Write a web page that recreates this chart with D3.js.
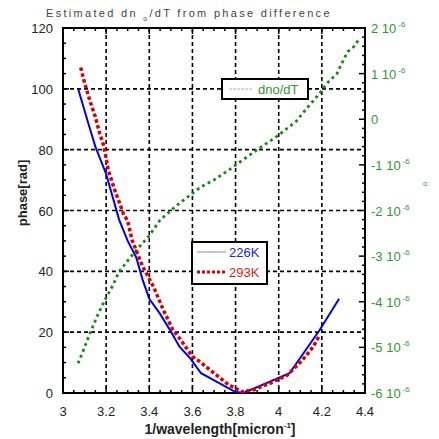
<!DOCTYPE html>
<html>
<head>
<meta charset="utf-8">
<script src="https://cdn.jsdelivr.net/npm/d3@7"></script>
<style>
  body { margin: 0; background: #fff; }
  text { font-family: "Liberation Sans", Arial, sans-serif; }
</style>
</head>
<body>
<script>
// data
var x226 = [3.07, 3.12, 3.15, 3.20, 3.26, 3.30, 3.34, 3.37, 3.40, 3.45, 3.50, 3.54, 3.59, 3.64, 3.80, 3.84, 4.05, 4.19, 4.28];
var y226 = [100, 88, 81, 72, 57, 50, 44.5, 37, 31, 26, 20.2, 15.2, 11.4, 6.5, 0.3, 0.1, 6.5, 20.7, 31];

var x293 = [3.082, 3.10, 3.125, 3.15, 3.17, 3.19, 3.21, 3.24, 3.28, 3.30, 3.32, 3.37, 3.42, 3.465, 3.51, 3.54, 3.57, 3.60, 3.64, 3.70, 3.77, 3.83, 3.88, 3.96, 4.04, 4.11, 4.16, 4.19];
var y293 = [107, 102, 96, 90.8, 85.4, 81, 73.3, 66.7, 59, 56.5, 50.3, 41.5, 34.9, 27.3, 20.7, 18, 15, 12, 10, 6.5, 2.6, 0.4, 1.0, 3.2, 5.9, 10.8, 15.2, 19.1];

// dn_o/dT in units of 1e-6
var xDn = [3.07, 3.10, 3.125, 3.16, 3.19, 3.23, 3.26, 3.30, 3.34, 3.40, 3.45, 3.50, 3.54, 3.59, 3.64, 3.70, 3.77, 3.81, 3.90, 3.99, 4.08, 4.13, 4.19, 4.23, 4.27, 4.30, 4.32, 4.35, 4.37];
var yDn = [-5.35, -5.0, -4.69, -4.3, -4.0, -3.65, -3.34, -3.1, -2.87, -2.55, -2.21, -2.0, -1.84, -1.66, -1.48, -1.33, -1.11, -0.97, -0.67, -0.38, -0.05, 0.24, 0.57, 0.82, 1.0, 1.3, 1.48, 1.6, 1.74];

var xTicks = [3, 3.2, 3.4, 3.6, 3.8, 4, 4.2, 4.4];
var yTicks = [0, 20, 40, 60, 80, 100, 120];
var y2Ticks = [-6, -5, -4, -3, -2, -1, 0, 1, 2];

var W = 439, H = 439;
var L = 63, R = 365, T = 28, B = 393;

var svg = d3.select("body").append("svg")
  .attr("width", W).attr("height", H);

var x = d3.scaleLinear().domain([3, 4.4]).range([L, R]);
var y = d3.scaleLinear().domain([0, 120]).range([B, T]);
var y2 = d3.scaleLinear().domain([-6, 2]).range([B, T]);

// grid
var grid = svg.append("g").attr("stroke", "#000").attr("stroke-width", 1.6)
  .attr("stroke-dasharray", "4,3");
[3.2, 3.4, 3.6, 3.8, 4, 4.2].forEach(function(v) {
  grid.append("line").attr("x1", x(v)).attr("x2", x(v)).attr("y1", T).attr("y2", B);
});
[20, 40, 60, 80, 100].forEach(function(v) {
  grid.append("line").attr("x1", L).attr("x2", R).attr("y1", y(v)).attr("y2", y(v));
});

// ticks (inside)
function range(a, b, s) { var r = []; for (var v = a; v <= b + 1e-9; v += s) r.push(+v.toFixed(4)); return r; }
var tk = svg.append("g").attr("stroke", "#000").attr("stroke-width", 1.5);
range(3, 4.4, 0.05).forEach(function(v) {
  var major = Math.abs(v * 5 - Math.round(v * 5)) < 1e-6;
  var len = major ? 6 : 3;
  tk.append("line").attr("x1", x(v)).attr("x2", x(v)).attr("y1", B).attr("y2", B - len);
  tk.append("line").attr("x1", x(v)).attr("x2", x(v)).attr("y1", T).attr("y2", T + len);
});
range(0, 120, 5).forEach(function(v) {
  var len = v % 20 === 0 ? 6 : 3;
  tk.append("line").attr("x1", L).attr("x2", L + len).attr("y1", y(v)).attr("y2", y(v));
});
range(-6, 2, 0.2).forEach(function(v) {
  var major = Math.abs(v - Math.round(v)) < 1e-6;
  var len = major ? 6 : 3;
  tk.append("line").attr("x1", R).attr("x2", R - len).attr("y1", y2(v)).attr("y2", y2(v));
});

// frame
svg.append("rect").attr("x", L).attr("y", T).attr("width", R - L).attr("height", B - T)
  .attr("fill", "none").attr("stroke", "#000").attr("stroke-width", 2);

// lines
var line = d3.line().x(function(d) { return x(d[0]); }).y(function(d) { return y(d[1]); });
var line2 = d3.line().x(function(d) { return x(d[0]); }).y(function(d) { return y2(d[1]); });

svg.append("path").datum(d3.zip(xDn, yDn)).attr("d", line2)
  .attr("fill", "none").attr("stroke", "#108a10").attr("stroke-width", 2.8)
  .attr("stroke-dasharray", "2.8,3.5");
svg.append("path").datum(d3.zip(x226, y226)).attr("d", line)
  .attr("fill", "none").attr("stroke", "#0000e0").attr("stroke-width", 2);
svg.append("path").datum(d3.zip(x293, y293)).attr("d", line)
  .attr("fill", "none").attr("stroke", "#d80000").attr("stroke-width", 3.5)
  .attr("stroke-dasharray", "3.5,2.5");

// tick labels
svg.selectAll(".xl").data(xTicks).enter().append("text")
  .attr("x", function(d) { return x(d); }).attr("y", 416)
  .attr("text-anchor", "middle").attr("font-size", 13).attr("fill", "#222")
  .text(function(d) { return d; });
svg.selectAll(".yl").data(yTicks).enter().append("text")
  .attr("x", 53).attr("y", function(d) { return y(d) + 5; })
  .attr("text-anchor", "end").attr("font-size", 13).attr("fill", "#222")
  .text(function(d) { return d; });
var r2 = svg.selectAll(".y2l").data(y2Ticks).enter().append("text")
  .attr("x", 371).attr("y", function(d) { return y2(d) + 5; })
  .attr("font-size", 13).attr("fill", "#2e9a2e");
r2.append("tspan").text(function(d) { return d === 0 ? "0" : d + " 10"; });
r2.filter(function(d) { return d !== 0; }).append("tspan")
  .attr("dy", -6).attr("font-size", 8).attr("dx", 2).text("-6");

svg.append("text").attr("x", 423).attr("y", 186).attr("font-size", 8)
  .attr("fill", "#2e9a2e").text("o");

// axis titles
var xt = svg.append("text").attr("x", 220).attr("y", 434).attr("text-anchor", "middle")
  .attr("font-size", 14).attr("font-weight", "bold").attr("fill", "#222");
xt.append("tspan").text("1/wavelength[micron");
xt.append("tspan").attr("dy", -6).attr("font-size", 8).text("-1");
xt.append("tspan").attr("dy", 6).text("]");
svg.append("text").attr("transform", "translate(27,193) rotate(-90)")
  .attr("text-anchor", "middle").attr("font-size", 13).attr("font-weight", "bold")
  .attr("fill", "#222").text("phase[rad]");

// title
var tt = svg.append("text").attr("x", 46).attr("y", 17).attr("font-size", 11)
  .attr("fill", "#444").attr("letter-spacing", 2.3);
tt.append("tspan").text("Estimated dn ");
tt.append("tspan").attr("dy", 4).attr("font-size", 7).text(" o");
tt.append("tspan").attr("dy", -4).text("/dT from phase difference");

// legends
var lg1 = svg.append("g");
lg1.append("rect").attr("x", 222).attr("y", 79).attr("width", 86).attr("height", 20)
  .attr("fill", "#fff").attr("stroke", "#000").attr("stroke-width", 2);
lg1.append("line").attr("x1", 229).attr("x2", 252).attr("y1", 89).attr("y2", 89)
  .attr("stroke", "#8fcf8f").attr("stroke-width", 1).attr("stroke-dasharray", "3,1");
lg1.append("text").attr("x", 258).attr("y", 94).attr("font-size", 13)
  .attr("fill", "#2e9a2e").text("dno/dT");

var lg2 = svg.append("g");
lg2.append("rect").attr("x", 192).attr("y", 242).attr("width", 75).attr("height", 42)
  .attr("fill", "#fff").attr("stroke", "#000").attr("stroke-width", 2);
lg2.append("line").attr("x1", 197).attr("x2", 226).attr("y1", 252).attr("y2", 252)
  .attr("stroke", "#7f7fff").attr("stroke-width", 1);
lg2.append("line").attr("x1", 197).attr("x2", 226).attr("y1", 272).attr("y2", 272)
  .attr("stroke", "#d80000").attr("stroke-width", 3).attr("stroke-dasharray", "3,2");
lg2.append("text").attr("x", 229).attr("y", 257).attr("font-size", 13)
  .attr("fill", "#2020e0").text("226K");
lg2.append("text").attr("x", 229).attr("y", 277).attr("font-size", 13)
  .attr("fill", "#e02020").text("293K");
</script>
</body>
</html>
